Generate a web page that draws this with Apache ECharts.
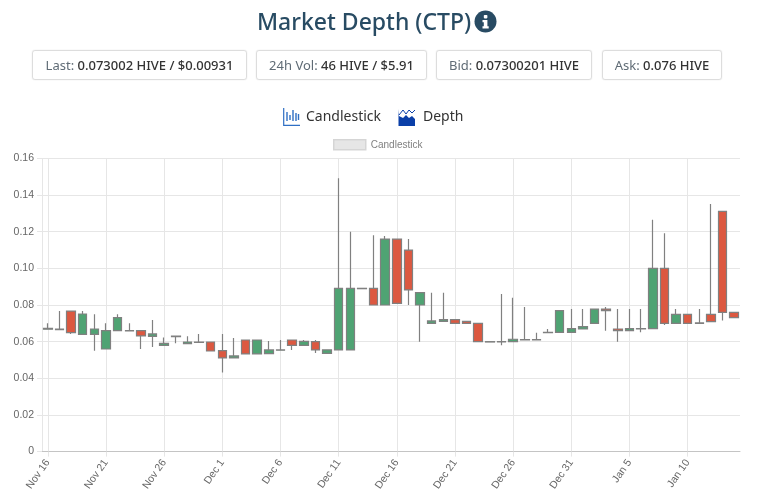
<!DOCTYPE html>
<html><head><meta charset="utf-8">
<style>
html,body{margin:0;padding:0;background:#fff;width:768px;height:497px;overflow:hidden;font-family:"Noto Sans","Open Sans",sans-serif}
#chart{position:absolute;left:0;top:0;width:768px;height:497px}
.h{position:absolute;white-space:nowrap}
#title{left:257px;top:4px;font-size:23px;line-height:34px;color:#284b63;font-weight:500}
.box{position:absolute;top:50px;height:28px;line-height:28px;border:1px solid #ddd;border-radius:3px;box-shadow:0 0 1px #ccc;text-align:center;font-size:13px;color:#5f6b75;box-sizing:content-box;white-space:nowrap}
.box b{font-weight:500;color:#333}
.tab{position:absolute;top:105px;font-size:14px;line-height:22px;color:#333}
</style></head><body>
<div id="chart"></div>
<div class="h" id="title">Market Depth (CTP)</div>
<svg class="h" style="left:474px;top:10px" width="23" height="23" viewBox="0 0 23 23"><circle cx="11.5" cy="11.5" r="11" fill="#284b63"/><rect x="9.8" y="5" width="3.6" height="3.4" rx=".8" fill="#fff"/><path d="M8.5 10h4.9v6.3h1.3v2.2H8.5v-2.2h1.3v-4.1H8.5z" fill="#fff"/></svg>
<div class="box" style="left:32px;width:213px">Last: <b>0.073002 HIVE / $0.00931</b></div>
<div class="box" style="left:256px;width:169px">24h Vol: <b>46 HIVE / $5.91</b></div>
<div class="box" style="left:436px;width:154px">Bid: <b>0.07300201 HIVE</b></div>
<div class="box" style="left:602px;width:118px">Ask: <b>0.076 HIVE</b></div>
<svg class="h" style="left:283px;top:108px" width="17" height="18" viewBox="0 0 17 18"><path d="M.7 0v17.3H17" fill="none" stroke="#2f6fc4" stroke-width="1.2"/><path d="M4 4v9M7 7v5M10 2v11M13 5v8M15.5 6v6" stroke="#2f6fc4" stroke-width="1.4"/></svg>
<div class="tab" style="left:306px">Candlestick</div>
<svg class="h" style="left:398px;top:108px" width="17" height="18" viewBox="0 0 17 18"><path d="M.5 1v17H17V11l-3-3-3 2-3-3-3 3-4-2z" fill="#0b3fa8"/><path d="M1 7l4-5 3 4 3-4 3 3 3-3" fill="none" stroke="#0b3fa8" stroke-width="1"/></svg>
<div class="tab" style="left:423px">Depth</div>
<script src="https://cdn.jsdelivr.net/npm/echarts@6/dist/echarts.min.js"></script>
<script>
const categories=["Nov 16","Nov 17","Nov 18","Nov 19","Nov 20","Nov 21","Nov 22","Nov 23","Nov 24","Nov 25","Nov 26","Nov 27","Nov 28","Nov 29","Nov 30","Dec 1","Dec 2","Dec 3","Dec 4","Dec 5","Dec 6","Dec 7","Dec 8","Dec 9","Dec 10","Dec 11","Dec 12","Dec 13","Dec 14","Dec 15","Dec 16","Dec 17","Dec 18","Dec 19","Dec 20","Dec 21","Dec 22","Dec 23","Dec 24","Dec 25","Dec 26","Dec 27","Dec 28","Dec 29","Dec 30","Dec 31","Jan 1","Jan 2","Jan 3","Jan 4","Jan 5","Jan 6","Jan 7","Jan 8","Jan 9","Jan 10","Jan 11","Jan 12","Jan 13","Jan 14"];
const opens=[.0668,.0665,.0767,.0640,.0640,.0560,.0660,.0659,.0660,.0629,.0580,.0627,.0589,.0596,.0598,.0551,.0511,.0609,.0533,.0535,.0553,.0609,.0580,.0600,.0536,.0555,.0555,.0889,.0891,.0800,.1160,.1100,.0800,.0700,.0711,.0720,.0711,.0700,.0598,.0598,.0600,.0609,.0609,.0649,.0651,.0651,.0669,.0700,.0778,.0669,.0660,.0669,.0671,.1000,.0700,.0749,.0700,.0749,.1311,.0760];
const closes=[.0673,.0669,.0649,.0751,.0669,.0660,.0731,.0660,.0631,.0642,.0591,.0630,.0598,.0598,.0549,.0511,.0522,.0533,.0609,.0555,.0555,.0580,.0602,.0555,.0555,.0891,.0891,.0891,.0800,.1160,.0809,.0882,.0867,.0713,.0720,.0700,.0700,.0600,.0600,.0600,.0613,.0611,.0611,.0651,.0769,.0671,.0682,.0778,.0769,.0660,.0671,.0671,.1000,.0700,.0749,.0700,.0702,.0709,.0760,.0731];
const lows=[.0668,.0665,.0642,.0640,.0551,.0560,.0660,.0659,.0560,.0571,.0580,.0591,.0589,.0596,.0549,.0431,.0511,.0533,.0533,.0535,.0553,.0555,.0580,.0538,.0536,.0555,.0555,.0889,.0800,.0800,.0809,.0800,.0600,.0700,.0711,.0700,.0700,.0600,.0598,.0580,.0600,.0609,.0609,.0649,.0651,.0651,.0669,.0700,.0660,.0600,.0660,.0651,.0671,.0691,.0700,.0700,.0700,.0709,.0716,.0731];
const highs=[.0700,.0767,.0767,.0767,.0749,.0700,.0749,.0700,.0660,.0718,.0622,.0630,.0629,.0642,.0598,.0642,.0620,.0609,.0609,.0604,.0609,.0609,.0609,.0609,.0555,.1491,.1200,.0891,.1180,.1176,.1160,.1160,.0867,.0867,.0867,.0720,.0711,.0700,.0600,.0860,.0840,.0789,.0649,.0669,.0769,.0778,.0778,.0778,.0789,.0778,.0778,.0778,.1265,.1191,.0778,.0749,.0778,.1351,.1311,.0760];
const yTicks=[0,.02,.04,.06,.08,.10,.12,.14,.16];
const candleData=categories.map((c,i)=>[opens[i],closes[i],lows[i],highs[i]]);
const chart=echarts.init(document.getElementById('chart'),null,{renderer:'canvas'});
const grid='#e6e6e6';
chart.setOption({
 animation:false,
 textStyle:{fontFamily:'"Liberation Sans",Arial,sans-serif'},
 legend:{top:134,left:328,itemWidth:32,itemHeight:10,itemGap:4,
  textStyle:{color:'#808080',fontSize:10,fontFamily:'"Liberation Sans"'},
  icon:'rect',
  itemStyle:{color:'#e6e6e6',borderColor:'#d5d5d5',borderWidth:1.5},
  data:['Candlestick']},
 grid:{left:42,right:28,top:158.4,bottom:45.4,containLabel:false},
 xAxis:{type:'category',data:categories,boundaryGap:true,
  axisLine:{show:true,onZero:false,lineStyle:{color:'#c4c4c4',width:1}},
  axisTick:{show:true,alignWithLabel:true,interval:4,length:5,lineStyle:{color:grid}},
  splitLine:{show:true,alignWithLabel:true,interval:4,lineStyle:{color:grid}},
  axisLabel:{interval:4,rotate:55,color:'#666',fontSize:10.5,margin:9,fontFamily:'"Liberation Sans"'}},
 yAxis:{type:'value',min:0,max:.16,interval:.02,
  axisLine:{show:true,lineStyle:{color:grid}},
  axisTick:{show:true,length:5,lineStyle:{color:grid}},
  splitLine:{show:true,lineStyle:{color:grid,width:1}},
  axisLabel:{color:'#666',fontSize:10.5,margin:8,fontFamily:'"Liberation Sans"',
   formatter:v=>{const t=yTicks.find(x=>Math.abs(x-v)<1e-9);return t===0?'0':(t===undefined?v:t).toFixed(2);}}},
 series:[{name:'Candlestick',type:'candlestick',data:candleData,barWidth:9,
  itemStyle:{color:'#4fa373',color0:'#dc5840',borderColor:'#808080',borderColor0:'#808080',borderColorDoji:'#808080',borderWidth:1.2}}]
});
</script></body></html>
